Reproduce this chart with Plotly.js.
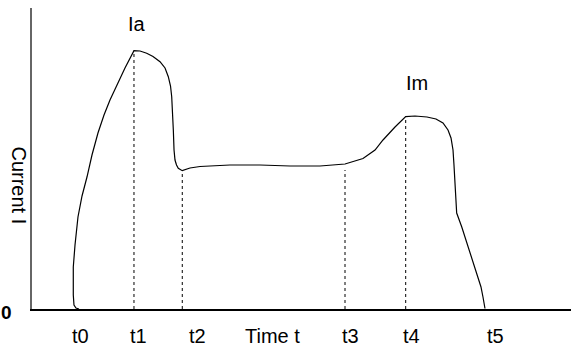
<!DOCTYPE html>
<html>
<head>
<meta charset="utf-8">
<script src="https://cdn.plot.ly/plotly-3.0.1.min.js"></script>
<style>html,body{margin:0;padding:0;background:#fff;}#chart{width:571px;height:347px;}</style>
</head>
<body>
<div id="chart"></div>
<script>
// Current waveform (time units 0-100, current units 0-100)
var curveTime = [8.72, 8.16, 7.79, 7.66, 7.66, 7.98, 8.53, 9.28, 10.20, 11.13, 12.24, 13.36, 14.47, 15.77, 17.25, 18.92,
  20.04, 21.28, 22.45, 23.75, 24.68, 25.29, 25.70, 25.92, 26.07, 26.22, 26.35, 26.53, 26.81, 27.14, 27.88,
  29.31, 31.17, 36.73, 42.30, 47.87, 53.43, 58.07, 61.41, 63.64, 65.12, 67.35, 69.33,
  71.06, 73.28, 74.95, 76.25, 77.18, 77.74, 78.11, 78.29, 78.48, 78.79, 79.72, 80.65, 81.45, 82.50, 83.30, 83.67, 84.04];
var curveCurrent = [0, 0.33, 1.33, 4.65, 13.95, 21.26, 30.56, 37.54, 43.85, 51.16, 58.47, 64.45, 69.44, 74.42, 80.07, 85.81,
  85.71, 84.95, 83.89, 82.16, 80.07, 77.18, 74.09, 70.53, 66.11, 59.47, 52.82, 49.50, 47.84, 46.74, 45.95,
  46.84, 47.34, 47.84, 47.84, 47.51, 47.51, 48.17, 50.00, 52.82, 56.15, 60.47, 63.89,
  64.12, 63.79, 63.12, 61.79, 59.47, 56.81, 52.82, 47.84, 42.86, 31.89, 27.34, 21.93, 17.61, 11.96, 7.31, 3.99, 0.17];

// Dashed markers at t1, t2, t3, t4
var markerTime = [18.92, 27.88, 58.07, 69.33];
var markerTop = [85.81, 45.95, 46.18, 63.89];

// Axis text
var tickLabels = ['t0', 't1', 't2', 'Time t', 't3', 't4', 't5'];
var tickPositions = [8.91, 19.85, 30.74, 44.71, 59.18, 70.32, 85.90];
var peakLabels = ['Ia', 'Im'];
var peakLabelTime = [19.57, 71.43];
var peakLabelCurrent = [94.7, 75.1];

var FONT = 'Liberation Sans, Arial, sans-serif';
var traces = [];
traces.push({x: curveTime, y: curveCurrent, mode: 'lines', type: 'scatter',
  line: {color: '#000', width: 1.2}, hoverinfo: 'skip', cliponaxis: false});
for (var i = 0; i < markerTime.length; i++) {
  traces.push({x: [markerTime[i], markerTime[i]], y: [0, markerTop[i]], mode: 'lines', type: 'scatter',
    line: {color: '#000', width: 1, dash: '3px,3px'}, hoverinfo: 'skip'});
}

var annotations = [];
for (var j = 0; j < tickLabels.length; j++) {
  annotations.push({x: tickPositions[j], y: -0.09, xref: 'x', yref: 'paper', text: tickLabels[j], showarrow: false,
    xanchor: 'center', yanchor: 'middle', font: {family: FONT, size: 20, color: '#000'}});
}
for (var k = 0; k < peakLabels.length; k++) {
  annotations.push({x: peakLabelTime[k], y: peakLabelCurrent[k], xref: 'x', yref: 'y', text: peakLabels[k], showarrow: false,
    xanchor: 'center', yanchor: 'middle', font: {family: FONT, size: 20, color: '#000'}});
}
annotations.push({x: -0.0464, y: -0.012, xref: 'paper', yref: 'paper', text: '<b>0</b>', showarrow: false,
  xanchor: 'center', yanchor: 'middle', font: {family: FONT, size: 19, color: '#000'}});
annotations.push({x: -0.025, y: 41.2, xref: 'paper', yref: 'y', text: 'Current I', showarrow: false, textangle: 90,
  xanchor: 'center', yanchor: 'middle', font: {family: FONT, size: 20, color: '#000'}});

var layout = {
  width: 571, height: 347,
  margin: {l: 32, r: 0, t: 8, b: 38},
  paper_bgcolor: '#fff', plot_bgcolor: '#fff',
  showlegend: false,
  xaxis: {range: [0, 100], showline: true, linecolor: '#000', linewidth: 1.5, showgrid: false, zeroline: false,
    showticklabels: false, ticks: '', fixedrange: true},
  yaxis: {range: [0, 100], showline: true, linecolor: '#666', linewidth: 2, showgrid: false, zeroline: false,
    showticklabels: false, ticks: '', fixedrange: true},
  annotations: annotations
};
Plotly.newPlot('chart', traces, layout, {displayModeBar: false, staticPlot: true});
</script>
</body>
</html>
